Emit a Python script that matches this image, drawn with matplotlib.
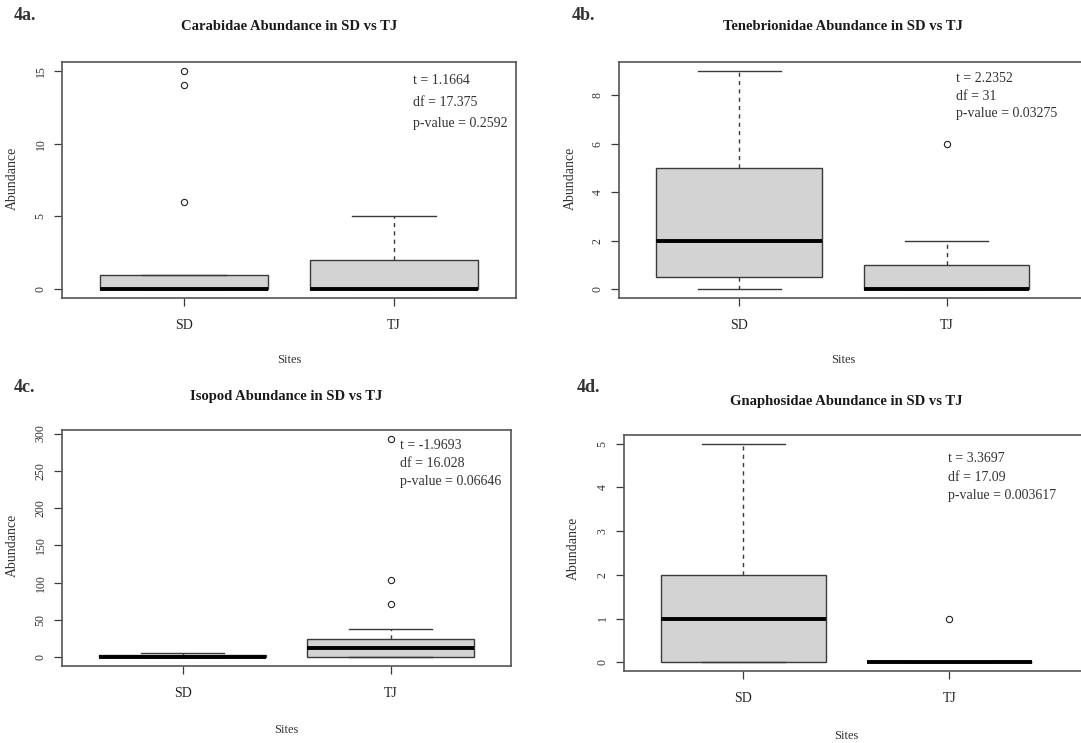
import matplotlib.pyplot as plt
import numpy as np

plt.rcParams['font.family'] = ['Liberation Serif', 'DejaVu Serif']

W, H = 1081, 743

sites = ["SD", "TJ"]
panel_tags = ["4a.", "4b.", "4c.", "4d."]
titles = ["Carabidae Abundance in SD vs TJ",
          "Tenebrionidae Abundance in SD vs TJ",
          "Isopod Abundance in SD vs TJ",
          "Gnaphosidae Abundance in SD vs TJ"]

# five-number summaries per site: [whisker low, Q1, median, Q3, whisker high]
carabidae_sd = [0, 0, 0, 1, 1]
carabidae_tj = [0, 0, 0, 2, 5]
carabidae_out = [[6, 14, 15], []]

tenebrionidae_sd = [0, 0.5, 2, 5, 9]
tenebrionidae_tj = [0, 0, 0, 1, 2]
tenebrionidae_out = [[], [6]]

isopod_sd = [0, 0, 1, 3, 6]
isopod_tj = [0, 1, 12, 25, 38]
isopod_out = [[], [72, 104, 293]]

gnaphosidae_sd = [0, 0, 1, 2, 5]
gnaphosidae_tj = [0, 0, 0, 0, 0]
gnaphosidae_out = [[], [1]]

yticks = [[0, 5, 10, 15], [0, 2, 4, 6, 8], [0, 50, 100, 150, 200, 250, 300], [0, 1, 2, 3, 4, 5]]

ttest = [["t = 1.1664", "df = 17.375", "p-value = 0.2592"],
         ["t = 2.2352", "df = 31", "p-value = 0.03275"],
         ["t = -1.9693", "df = 16.028", "p-value = 0.06646"],
         ["t = 3.3697", "df = 17.09", "p-value = 0.003617"]]

summaries = [(carabidae_sd, carabidae_tj, carabidae_out),
             (tenebrionidae_sd, tenebrionidae_tj, tenebrionidae_out),
             (isopod_sd, isopod_tj, isopod_out),
             (gnaphosidae_sd, gnaphosidae_tj, gnaphosidae_out)]

# layout in pixels: axes (left, top, right, bottom), px per x-unit
axes_px = [(62, 62, 516, 298), (619, 62, 1081, 298), (62, 430, 511, 666), (624, 435, 1081, 671)]
unit_px = [210, 207.3, 208, 206]
tag_px = [(14, 15), (572, 15), (14, 388), (577, 388)]
title_px = [(289, 27), (843, 27), (286, 396), (846, 401)]
ylab_px = [(12, 178), (570, 178), (12, 545), (573, 548)]
sites_px = [(289, 360), (843, 360), (286, 730), (846, 736)]
ann_px = [(413, 81, 21), (956, 78, 18), (400, 445, 18.5), (948, 459, 18.5)]

fig = plt.figure(figsize=(W / 100, H / 100), dpi=100)
edge = '#3a3a3a'

for i in range(4):
    l, t, r, b = axes_px[i]
    ax = fig.add_axes([l / W, 1 - b / H, (r - l) / W, (b - t) / H])
    sd, tj, outs = summaries[i]
    stats = []
    for name, s, o in zip(sites, [sd, tj], outs):
        stats.append(dict(label=name, whislo=s[0], q1=s[1], med=s[2], q3=s[3],
                          whishi=s[4], fliers=o))
    ax.bxp(stats, positions=[1, 2], widths=0.8, patch_artist=True,
           boxprops=dict(facecolor='#d3d3d3', edgecolor=edge, linewidth=1.0),
           medianprops=dict(color='black', linewidth=2.8, solid_capstyle='butt'),
           whiskerprops=dict(color=edge, linewidth=1.0, linestyle=(0, (3, 3))),
           capprops=dict(color=edge, linewidth=1.0),
           flierprops=dict(marker='o', markerfacecolor='none', markeredgecolor='#222',
                           markersize=4.5, markeredgewidth=0.8))
    allv = sd + tj + outs[0] + outs[1]
    lo, hi = min(allv), max(allv)
    pad = 0.04 * (hi - lo)
    ax.set_ylim(lo - pad, hi + pad)
    ax.set_xlim(0.42, 0.42 + (r - l) / unit_px[i])
    ax.set_yticks(yticks[i])
    ax.set_yticklabels([str(v) for v in yticks[i]], rotation=90, va='center', fontsize=8.5)
    ax.set_xticks([1, 2])
    ax.set_xticklabels(sites, fontsize=10)
    ax.tick_params(axis='y', length=6, width=0.9, color=edge, pad=5, labelcolor='#333')
    ax.tick_params(axis='x', length=6, width=0.9, color=edge, pad=9, labelcolor='#222')
    for sp in ax.spines.values():
        sp.set_color('#555555')
        sp.set_linewidth(1.2)
    if r >= W:
        ax.spines['right'].set_visible(False)

    fig.text(tag_px[i][0] / W, 1 - tag_px[i][1] / H, panel_tags[i], fontsize=13,
             fontweight='bold', color='#333', ha='left', va='center')
    fig.text(title_px[i][0] / W, 1 - title_px[i][1] / H, titles[i], fontsize=10.5,
             fontweight='bold', color='#1a1a1a', ha='center', va='center')
    fig.text(ylab_px[i][0] / W, 1 - ylab_px[i][1] / H, "Abundance", fontsize=10,
             rotation=90, color='#333', ha='center', va='center')
    fig.text(sites_px[i][0] / W, 1 - sites_px[i][1] / H, "Sites", fontsize=9,
             color='#333', ha='center', va='center')
    ax_x, ax_y, step = ann_px[i]
    for k, line in enumerate(ttest[i]):
        fig.text(ax_x / W, 1 - (ax_y + k * step) / H, line, fontsize=10,
                 color='#333', ha='left', va='center')

fig.savefig("out.png", dpi=100)
